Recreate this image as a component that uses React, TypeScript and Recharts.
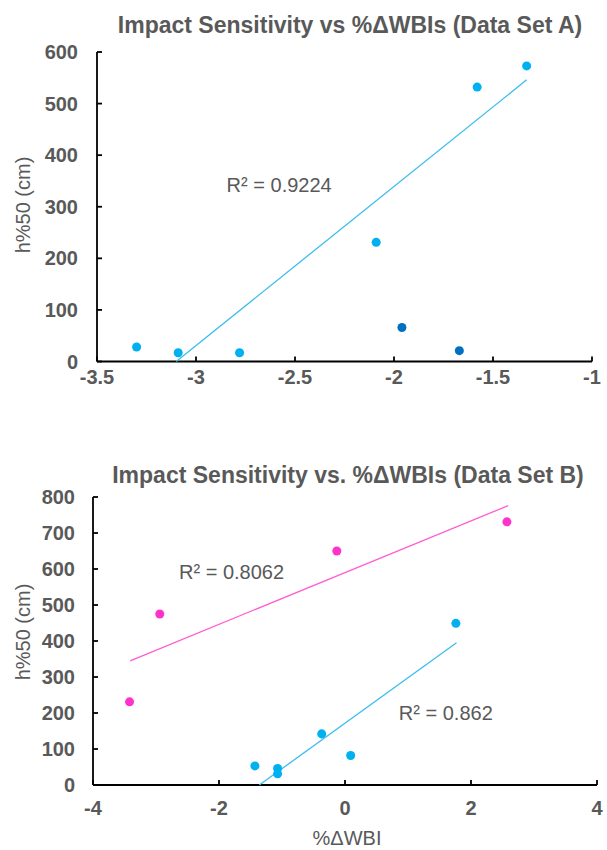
import { ScatterChart, Scatter, XAxis, YAxis, ZAxis, ReferenceDot } from "recharts";

// Data set A
const aLightX = [-3.3, -3.09, -2.78, -2.09, -1.58, -1.33];
const aLightY = [28, 17, 17, 231, 532, 573];
const aDarkX = [-1.96, -1.67];
const aDarkY = [66, 21];
const aTrendX = [-3.1, -1.33];
const aTrendY = [0, 546];
const aXTicks = [-3.5, -3, -2.5, -2, -1.5, -1];
const aYTicks = [0, 100, 200, 300, 400, 500, 600];

// Data set B
const bPinkX = [-3.42, -2.94, -0.13, 2.57];
const bPinkY = [231, 475, 650, 731];
const bBlueX = [-1.43, -1.07, -1.07, -0.37, 0.09, 1.76];
const bBlueY = [53, 46, 31, 142, 82, 449];
const bPinkTrendX = [-3.41, 2.59];
const bPinkTrendY = [345, 776];
const bBlueTrendX = [-1.36, 1.77];
const bBlueTrendY = [0, 395];
const bXTicks = [-4, -2, 0, 2, 4];
const bYTicks = [0, 100, 200, 300, 400, 500, 600, 700, 800];

const zip = (xs: number[], ys: number[]) => xs.map((x, i) => ({ x, y: ys[i] }));

const FONT = '"Liberation Sans", Arial, sans-serif';
const GREY = "#595959";
const LIGHT = "#00B0F0";
const DARK = "#0070C0";
const PINK = "#FF33CC";

const tickStyle = { fill: GREY, fontSize: 20, fontWeight: 700, fontFamily: FONT };
const axisLine = { stroke: "#000", strokeWidth: 1.8 };
const noShape = () => <g />;

const Title = ({ text, x, y }: { text: string; x: number; y: number }) => (
  <div
    style={{
      position: "absolute",
      left: x,
      top: y,
      transform: "translate(-50%, -50%)",
      whiteSpace: "nowrap",
      fontFamily: FONT,
      fontWeight: 700,
      fontSize: 23,
      lineHeight: 1,
      color: GREY,
    }}
  >
    {text}
  </div>
);

const AxisTitle = ({ text, x, y, rotate }: { text: string; x: number; y: number; rotate?: boolean }) => (
  <div
    style={{
      position: "absolute",
      left: x,
      top: y,
      transform: `translate(-50%, -50%)${rotate ? " rotate(-90deg)" : ""}`,
      whiteSpace: "nowrap",
      fontFamily: FONT,
      fontSize: 20,
      lineHeight: 1,
      color: GREY,
    }}
  >
    {text}
  </div>
);

const r2Label = (value: string) => ({
  value,
  position: "center" as const,
  fill: GREY,
  fontSize: 20,
  fontFamily: FONT,
});

export default function App() {
  return (
    <div style={{ position: "absolute", left: 0, top: 0, width: 607, height: 850, background: "#fff" }}>
      <Title text="Impact Sensitivity vs %ΔWBIs (Data Set A)" x={350} y={25} />
      <AxisTitle text="h%50 (cm)" x={23} y={205} rotate />
      <div style={{ position: "absolute", left: 0, top: 0 }}>
        <ScatterChart width={607} height={420} margin={{ top: 52, right: 15, bottom: 0, left: 0 }}>
          <XAxis
            type="number"
            dataKey="x"
            domain={[-3.5, -1]}
            ticks={aXTicks}
            height={58.5}
            axisLine={axisLine}
            tickLine={axisLine}
            tickSize={-5}
            tickMargin={13}
            tick={tickStyle}
            interval={0}
          />
          <YAxis
            type="number"
            dataKey="y"
            domain={[0, 600]}
            ticks={aYTicks}
            width={97}
            axisLine={axisLine}
            tickLine={axisLine}
            tickSize={-5}
            tickMargin={24}
            tick={tickStyle}
            interval={0}
          />
          <ZAxis range={[95, 95]} />
          <Scatter
            data={zip(aTrendX, aTrendY)}
            line={{ stroke: "#3CBDEE", strokeWidth: 1.3 }}
            shape={noShape}
            isAnimationActive={false}
          />
          <Scatter data={zip(aLightX, aLightY)} fill={LIGHT} shape="circle" isAnimationActive={false} />
          <Scatter data={zip(aDarkX, aDarkY)} fill={DARK} shape="circle" isAnimationActive={false} />
          <ReferenceDot x={-2.58} y={342} r={0} fill="none" stroke="none" label={r2Label("R² = 0.9224")} />
        </ScatterChart>
      </div>

      <Title text="Impact Sensitivity vs. %ΔWBIs (Data Set B)" x={348} y={475} />
      <AxisTitle text="h%50 (cm)" x={23} y={632} rotate />
      <AxisTitle text="%ΔWBI" x={347} y={838} />
      <div style={{ position: "absolute", left: 0, top: 440 }}>
        <ScatterChart width={607} height={410} margin={{ top: 57, right: 10, bottom: 0, left: 0 }}>
          <XAxis
            type="number"
            dataKey="x"
            domain={[-4, 4]}
            ticks={bXTicks}
            height={65}
            axisLine={axisLine}
            tickLine={axisLine}
            tickSize={-5}
            tickMargin={21}
            tick={tickStyle}
            interval={0}
          />
          <YAxis
            type="number"
            dataKey="y"
            domain={[0, 800]}
            ticks={bYTicks}
            width={93}
            axisLine={axisLine}
            tickLine={axisLine}
            tickSize={-5}
            tickMargin={23}
            tick={tickStyle}
            interval={0}
          />
          <ZAxis range={[95, 95]} />
          <Scatter
            data={zip(bPinkTrendX, bPinkTrendY)}
            line={{ stroke: "#FF5CD2", strokeWidth: 1.3 }}
            shape={noShape}
            isAnimationActive={false}
          />
          <Scatter
            data={zip(bBlueTrendX, bBlueTrendY)}
            line={{ stroke: "#3CBDEE", strokeWidth: 1.3 }}
            shape={noShape}
            isAnimationActive={false}
          />
          <Scatter data={zip(bPinkX, bPinkY)} fill={PINK} shape="circle" isAnimationActive={false} />
          <Scatter data={zip(bBlueX, bBlueY)} fill={LIGHT} shape="circle" isAnimationActive={false} />
          <ReferenceDot x={-1.8} y={592} r={0} fill="none" stroke="none" label={r2Label("R² = 0.8062")} />
          <ReferenceDot x={1.6} y={200} r={0} fill="none" stroke="none" label={r2Label("R² = 0.862")} />
        </ScatterChart>
      </div>
    </div>
  );
}
